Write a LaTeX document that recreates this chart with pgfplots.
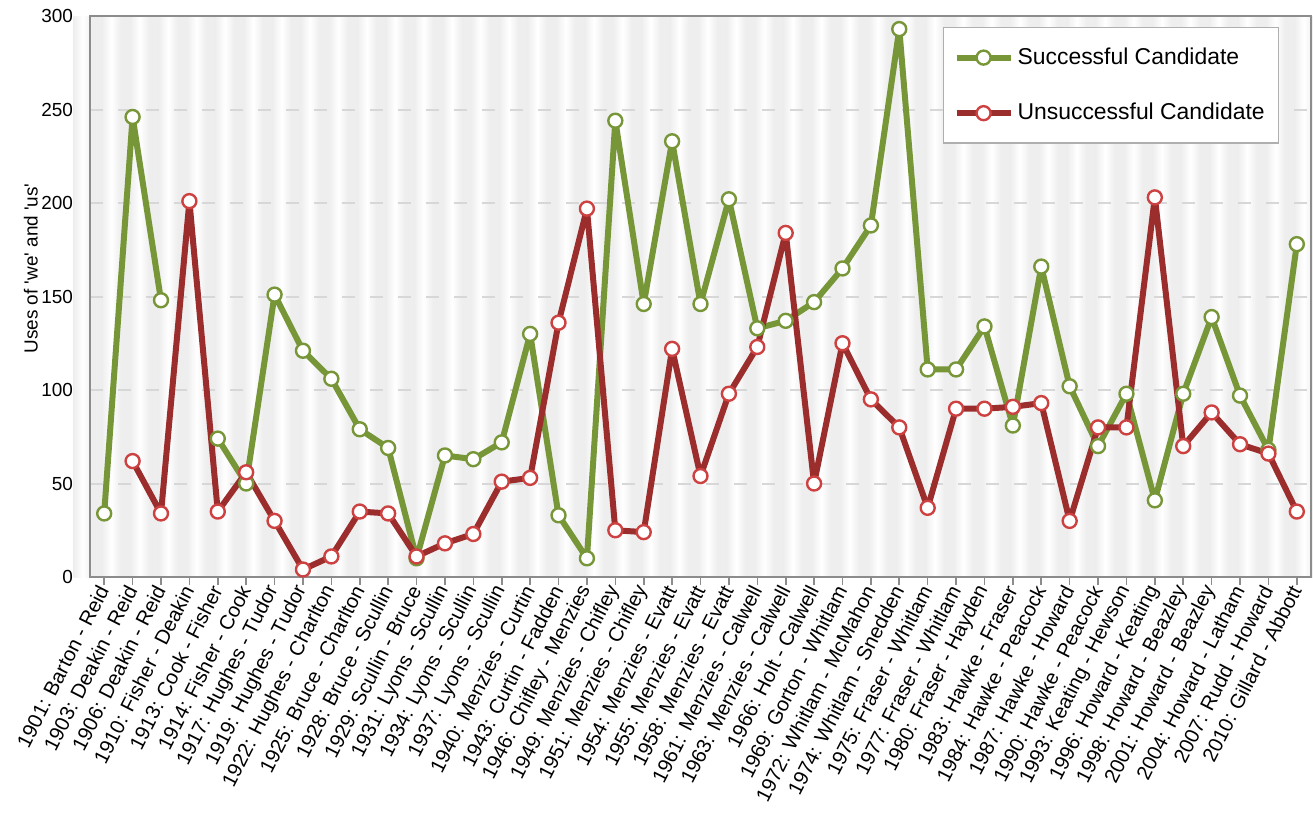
\documentclass[border=0pt]{standalone}
\usepackage{fontspec}
\setmainfont{Liberation Sans}
\usepackage{pgfplots}
\pgfplotsset{compat=1.18}

\definecolor{wingreen}{RGB}{119,150,56}
\definecolor{losered}{RGB}{155,45,45}
\definecolor{losemark}{RGB}{205,65,65}
\definecolor{stripegray}{RGB}{238,238,238}
\definecolor{framegray}{RGB}{140,140,140}
\definecolor{gridgray}{RGB}{215,215,215}

\begin{document}
\begin{tikzpicture}
\begin{axis}[
    set layers,
    scale only axis,
    width=610.5bp, height=280.5bp,
    xmin=-0.5, xmax=42.5,
    ymin=0, ymax=300,
    ytick={0,50,...,300},
    xtick={0,...,42},
    xticklabels={
        {1901: Barton - Reid},{1903: Deakin - Reid},{1906: Deakin - Reid},
        {1910: Fisher - Deakin},{1913: Cook - Fisher},{1914: Fisher - Cook},
        {1917: Hughes - Tudor},{1919: Hughes - Tudor},{1922: Hughes - Charlton},
        {1925: Bruce - Charlton},{1928: Bruce - Scullin},{1929: Scullin - Bruce},
        {1931: Lyons - Scullin},{1934: Lyons - Scullin},{1937: Lyons - Scullin},
        {1940: Menzies - Curtin},{1943: Curtin - Fadden},{1946: Chifley - Menzies},
        {1949: Menzies - Chifley},{1951: Menzies - Chifley},{1954: Menzies - Evatt},
        {1955: Menzies - Evatt},{1958: Menzies - Evatt},{1961: Menzies - Calwell},
        {1963: Menzies - Calwell},{1966: Holt - Calwell},{1969: Gorton - Whitlam},
        {1972: Whitlam - McMahon},{1974: Whitlam - Snedden},{1975: Fraser - Whitlam},
        {1977: Fraser - Whitlam},{1980: Fraser - Hayden},{1983: Hawke - Fraser},
        {1984: Hawke - Peacock},{1987: Hawke - Howard},{1990: Hawke - Peacock},
        {1993: Keating - Hewson},{1996: Howard - Keating},{1998: Howard - Beazley},
        {2001: Howard - Beazley},{2004: Howard - Latham},{2007: Rudd - Howard},
        {2010: Gillard - Abbott}},
    /pgf/number format/assume math mode=true,
    xticklabel style={rotate=63, anchor=east, inner sep=1bp,
        font=\fontsize{10.2}{12}\selectfont},
    yticklabel style={font=\fontsize{9.5}{11}\selectfont, xshift=-5bp},
    ylabel={Uses of \textquotesingle we\textquotesingle{} and \textquotesingle us\textquotesingle},
    ylabel style={font=\fontsize{9.5}{11}\selectfont, yshift=-5bp, xshift=14bp},
    tick pos=left,
    xtick align=outside,
    major tick length=4bp,
    xtick style={draw=framegray, line width=0.8bp},
    ytick style={draw=none},
    axis line style={draw=framegray, line width=1bp},
    ymajorgrids,
    xmajorgrids=false,
    major grid style={draw=gridgray, line width=1bp, dash pattern=on 6.5bp off 7.5bp},
    unbounded coords=jump,
    legend style={at={(0.974,0.980)}, anchor=north east,
        draw=framegray!70, fill=white, line width=0.6bp,
        font=\fontsize{11.5}{14}\selectfont,
        row sep=14bp, inner xsep=5bp, inner ysep=8bp},
    legend cell align=left,
    legend image code/.code={
        \draw[#1, mark repeat=2, mark phase=2]
            plot coordinates {(0bp,0bp) (13.5bp,0bp) (27bp,0bp)};},
]

\begin{pgfonlayer}{axis background}
    \fill[stripegray] (axis cs:-0.5,0) rectangle (axis cs:42.5,300);
    \pgfplotsinvokeforeach{-1,...,42}{
        \shade[left color=stripegray, right color=stripegray, middle color=white]
            (axis cs:#1-0.08,0) rectangle (axis cs:#1+0.58,300);
    }
\end{pgfonlayer}

% successful candidate
\addplot[color=wingreen, line width=3bp, line join=round,
    mark=*, mark size=3.5bp,
    mark options={fill=white, draw=wingreen, line width=1.2bp}]
coordinates {
    (0,34) (1,246) (2,148) (3,nan) (4,74) (5,50) (6,151) (7,121) (8,106)
    (9,79) (10,69) (11,10) (12,65) (13,63) (14,72) (15,130) (16,33) (17,10)
    (18,244) (19,146) (20,233) (21,146) (22,202) (23,133) (24,137) (25,147)
    (26,165) (27,188) (28,293) (29,111) (30,111) (31,134) (32,81) (33,166)
    (34,102) (35,70) (36,98) (37,41) (38,98) (39,139) (40,97) (41,68) (42,178)
};
\addlegendentry{Successful Candidate}

% unsuccessful candidate
\addplot[color=losered, line width=3bp, line join=round,
    mark=*, mark size=3.5bp,
    mark options={fill=white, draw=losemark, line width=1.2bp}]
coordinates {
    (0,nan) (1,62) (2,34) (3,201) (4,35) (5,56) (6,30) (7,4) (8,11)
    (9,35) (10,34) (11,11) (12,18) (13,23) (14,51) (15,53) (16,136) (17,197)
    (18,25) (19,24) (20,122) (21,54) (22,98) (23,123) (24,184) (25,50)
    (26,125) (27,95) (28,80) (29,37) (30,90) (31,90) (32,91) (33,93)
    (34,30) (35,80) (36,80) (37,203) (38,70) (39,88) (40,71) (41,66) (42,35)
};
\addlegendentry{Unsuccessful Candidate}

\coordinate (SW) at (rel axis cs:0,0);
\coordinate (NE) at (rel axis cs:1,1);
\end{axis}
\pgfresetboundingbox
\path[use as bounding box] ([xshift=-45bp,yshift=-118.5bp]SW) rectangle ([xshift=1bp,yshift=8bp]NE);
\end{tikzpicture}
\end{document}
